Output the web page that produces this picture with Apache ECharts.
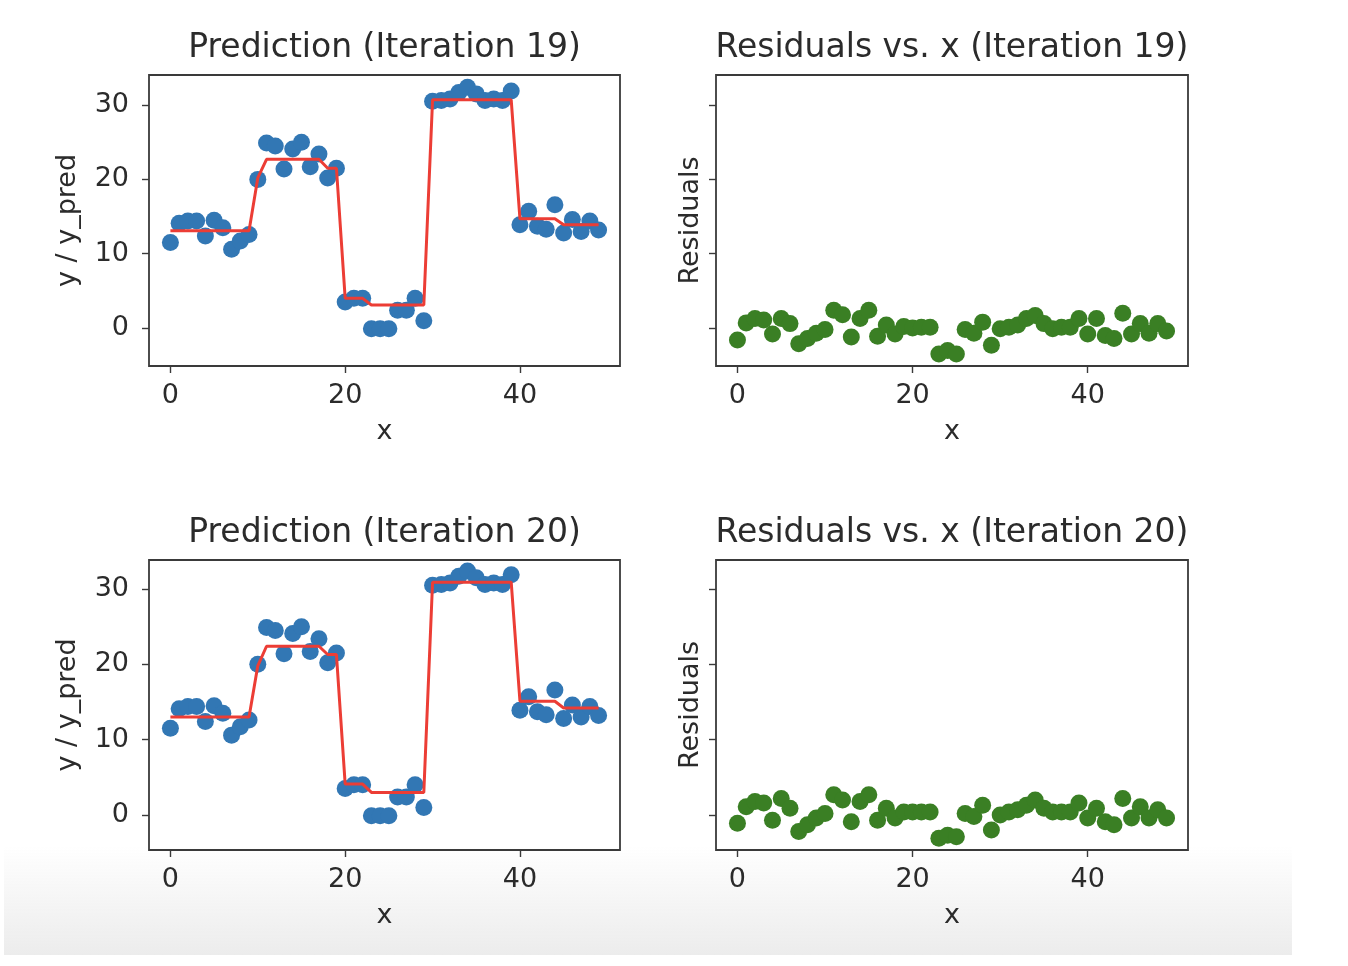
<!DOCTYPE html>
<html>
<head>
<meta charset="utf-8">
<title>Prediction / Residuals</title>
<script src="https://cdn.jsdelivr.net/npm/echarts@6/dist/echarts.min.js"></script>
<style>
	html, body { margin: 0; padding: 0; background: #fff; }
	#main { width: 1348px; height: 966px; }
</style>
</head>
<body>
<div id="main"></div>
<script>
	var xs = [0, 1, 2, 3, 4, 5, 6, 7, 8, 9,
		10, 11, 12, 13, 14, 15, 16, 17, 18, 19,
		20, 21, 22, 23, 24, 25, 26, 27, 28, 29,
		30, 31, 32, 33, 34, 35, 36, 37, 38, 39,
		40, 41, 42, 43, 44, 45, 46, 47, 48, 49];

	// observed y (same in both iterations)
	var yObs = [11.5, 14.1, 14.4, 14.4, 12.4, 14.5, 13.5, 10.6, 11.7, 12.6,
		20.0, 24.9, 24.5, 21.4, 24.1, 25.0, 21.7, 23.4, 20.2, 21.5,
		3.5, 4.0, 4.0, -0.1, -0.1, -0.1, 2.4, 2.4, 4.0, 1.0,
		30.5, 30.6, 30.8, 31.7, 32.4, 31.5, 30.6, 30.8, 30.6, 31.9,
		13.9, 15.7, 13.7, 13.3, 16.6, 12.8, 14.6, 13.0, 14.4, 13.2];

	var pred19 = [13.1, 13.1, 13.1, 13.1, 13.1, 13.1, 13.1, 13.1, 13.1, 13.1,
		20.2, 22.7, 22.7, 22.7, 22.7, 22.7, 22.7, 22.7, 21.5, 21.5,
		4.0, 4.0, 4.0, 3.1, 3.1, 3.1, 3.1, 3.1, 3.1, 3.1,
		30.7, 30.7, 30.7, 30.7, 30.7, 30.7, 30.7, 30.7, 30.7, 30.7,
		14.7, 14.7, 14.7, 14.7, 14.7, 13.9, 13.9, 13.9, 13.9, 13.9];

	var pred20 = [13.0, 13.0, 13.0, 13.0, 13.0, 13.0, 13.0, 13.0, 13.0, 13.0,
		19.8, 22.4, 22.4, 22.4, 22.4, 22.4, 22.4, 22.4, 21.3, 21.3,
		4.1, 4.1, 4.1, 3.0, 3.0, 3.0, 3.0, 3.0, 3.0, 3.0,
		30.9, 30.9, 30.9, 30.9, 30.9, 30.9, 30.9, 30.9, 30.9, 30.9,
		15.1, 15.1, 15.1, 15.1, 15.1, 14.2, 14.2, 14.2, 14.2, 14.2];

	var res19 = [-1.6, 0.7, 1.3, 1.1, -0.8, 1.3, 0.6, -2.1, -1.4, -0.7,
		-0.2, 2.4, 1.8, -1.2, 1.3, 2.4, -1.1, 0.4, -0.8, 0.2,
		0.0, 0.1, 0.1, -3.5, -3.0, -3.5, -0.2, -0.7, 0.8, -2.3,
		-0.1, 0.1, 0.4, 1.3, 1.7, 0.6, -0.1, 0.1, 0.1, 1.3,
		-0.8, 1.3, -1.0, -1.4, 2.0, -0.8, 0.6, -0.7, 0.6, -0.4];

	var res20 = [-1.1, 1.1, 1.8, 1.6, -0.7, 2.2, 0.9, -2.2, -1.3, -0.4,
		0.2, 2.7, 2.0, -0.9, 1.8, 2.7, -0.7, 0.9, -0.4, 0.4,
		0.4, 0.4, 0.4, -3.1, -2.7, -2.9, 0.2, -0.2, 1.3, -2.0,
		0.0, 0.4, 0.7, 1.3, 2.0, 0.9, 0.4, 0.4, 0.4, 1.6,
		-0.4, 0.9, -0.9, -1.3, 2.2, -0.4, 1.1, -0.4, 0.7, -0.4];

	var xTicks = [0, 20, 40];
	var yTicks = [0, 10, 20, 30];
	var titles = ['Prediction (Iteration 19)', 'Residuals vs. x (Iteration 19)',
		'Prediction (Iteration 20)', 'Residuals vs. x (Iteration 20)'];

	var FONT = '"DejaVu Sans", sans-serif';
	var TEXT = '#2b2b2b';
	var SPINE = '#3a3a3a';

	function pairs(ys) {
		var out = [];
		for (var i = 0; i < xs.length; i++) out.push([xs[i], ys[i]]);
		return out;
	}

	var grids = [
		{left: 149, top: 75, width: 471, height: 291},
		{left: 716, top: 75, width: 472, height: 291},
		{left: 149, top: 560, width: 471, height: 290},
		{left: 716, top: 560, width: 472, height: 290}
	];
	grids.forEach(function (g) {
		g.show = true;
		g.borderColor = SPINE;
		g.borderWidth = 1.8;
		g.backgroundColor = 'transparent';
		g.containLabel = false;
	});

	function xAxis(idx) {
		return {
			type: 'value', gridIndex: idx, min: -2.45, max: 51.45, position: 'bottom',
			name: 'x', nameLocation: 'middle', nameGap: 52,
			nameTextStyle: {fontSize: 27, fontFamily: FONT, color: TEXT},
			axisLine: {show: false, onZero: false},
			splitLine: {show: false},
			axisTick: {show: true, inside: false, length: 7, customValues: xTicks, lineStyle: {color: SPINE, width: 1.4}},
			axisLabel: {show: true, margin: 16, customValues: xTicks, fontSize: 27, fontFamily: FONT, color: TEXT}
		};
	}

	function yAxis(idx, min, max, name, gap, labels) {
		return {
			type: 'value', gridIndex: idx, min: min, max: max, position: 'left',
			name: name, nameLocation: 'middle', nameGap: gap, nameRotate: 90,
			nameTextStyle: {fontSize: 27, fontFamily: FONT, color: TEXT},
			axisLine: {show: false, onZero: false},
			splitLine: {show: false},
			axisTick: {show: true, inside: false, length: 7, customValues: yTicks, lineStyle: {color: SPINE, width: 1.4}},
			axisLabel: {show: labels, margin: 20, customValues: yTicks, fontSize: 27, fontFamily: FONT, color: TEXT}
		};
	}

	function scatter(idx, ys, color) {
		return {
			type: 'scatter', xAxisIndex: idx, yAxisIndex: idx,
			data: pairs(ys), symbol: 'circle', symbolSize: 17,
			itemStyle: {color: color, opacity: 1}, z: 2, silent: true
		};
	}

	function predLine(idx, ys) {
		return {
			type: 'line', xAxisIndex: idx, yAxisIndex: idx,
			data: pairs(ys), showSymbol: false, symbol: 'none',
			lineStyle: {color: '#ec3d35', width: 3}, z: 3, silent: true
		};
	}

	var titleCenters = [[384.5, 48], [952, 48], [384.5, 533], [952, 533]];
	var graphics = [{
		type: 'rect', z: -10, silent: true,
		shape: {x: 4, y: 845, width: 1288, height: 110},
		style: {fill: new echarts.graphic.LinearGradient(0, 0, 0, 1, [
			{offset: 0, color: 'rgba(236,236,236,0)'},
			{offset: 1, color: '#ececec'}
		])}
	}];
	titles.forEach(function (t, i) {
		graphics.push({
			type: 'text', x: titleCenters[i][0], y: titleCenters[i][1], silent: true,
			style: {
				text: t, fontSize: 33, fontFamily: FONT, fill: TEXT,
				textAlign: 'center', textVerticalAlign: 'middle',
				align: 'center', verticalAlign: 'middle'
			}
		});
	});

	var option = {
		animation: false,
		backgroundColor: 'transparent',
		grid: grids,
		xAxis: [xAxis(0), xAxis(1), xAxis(2), xAxis(3)],
		yAxis: [
			yAxis(0, -5.1, 34.04, 'y / y_pred', 68, true),
			yAxis(1, -5.1, 34.04, 'Residuals', 12, false),
			yAxis(2, -4.65, 33.85, 'y / y_pred', 68, true),
			yAxis(3, -4.65, 33.85, 'Residuals', 12, false)
		],
		graphic: graphics,
		series: [
			scatter(0, yObs, '#3277b4'),
			predLine(0, pred19),
			scatter(1, res19, '#3a7f24'),
			scatter(2, yObs, '#3277b4'),
			predLine(2, pred20),
			scatter(3, res20, '#3a7f24')
		]
	};

	var myChart = echarts.init(document.getElementById('main'));
	myChart.setOption(option);
</script>
</body>
</html>
